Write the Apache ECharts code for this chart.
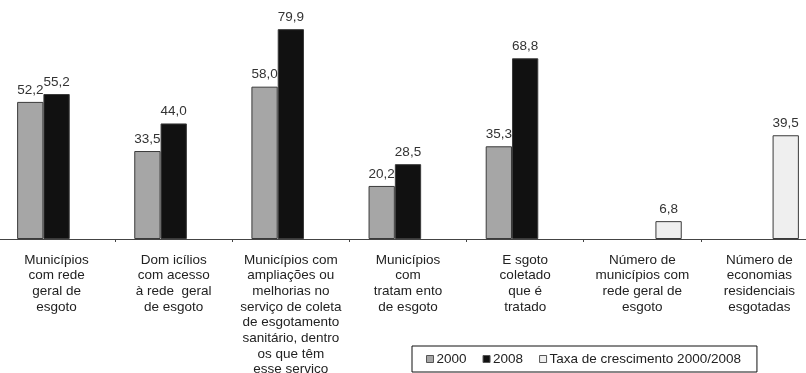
<!DOCTYPE html>
<html>
<head>
<meta charset="utf-8">
<script src="https://cdn.jsdelivr.net/npm/echarts@6/dist/echarts.min.js"></script>
<style>
  html, body { margin: 0; padding: 0; background: #fff; }
  #chart { width: 806px; height: 373px; }
</style>
</head>
<body>
<div id="chart"></div>
<script>
// Saneamento: indicadores de esgotamento sanitário, 2000 e 2008 (%)
const categories = [
  'Municípios\ncom rede\ngeral de\nesgoto',
  'Dom icílios\ncom acesso\nà rede  geral\nde esgoto',
  'Municípios com\nampliações ou\nmelhorias no\nserviço de coleta\nde esgotamento\nsanitário, dentro\nos que têm\nesse serviço',
  'Municípios\ncom\ntratam ento\nde esgoto',
  'E sgoto\ncoletado\nque é\ntratado',
  'Número de\nmunicípios com\nrede geral de\nesgoto',
  'Número de\neconomias\nresidenciais\nesgotadas'
];
const seriesNames = ['2000', '2008', 'Taxa de crescimento 2000/2008'];
const values2000 = [52.2, 33.5, 58.0, 20.2, 35.3, null, null];
const values2008 = [55.2, 44.0, 79.9, 28.5, 68.8, null, null];
const valuesTaxa = [null, null, null, null, null, 6.8, 39.5];

const fill = ['#a6a6a6', '#111111', '#efefef'];
const font = 'Liberation Sans, Arial, sans-serif';

const fmt = p => p.value == null ? '' : p.value.toFixed(1).replace('.', ',');

function barSeries(name, data, color) {
  return {
    name: name,
    type: 'bar',
    data: data,
    barWidth: 26.3,
    barGap: '0%',
    itemStyle: { color: color, borderColor: '#3a3a3a', borderWidth: 1 },
    label: {
      show: true,
      position: 'top',
      distance: 5,
      formatter: fmt,
      color: '#333',
      fontFamily: font,
      fontSize: 13.5
    },
    emphasis: { disabled: true }
  };
}

const chart = echarts.init(document.getElementById('chart'), null, { renderer: 'canvas' });
chart.setOption({
  animation: false,
  backgroundColor: '#fff',
  grid: {
    left: -2, top: 0, width: 820, height: 239,
    containLabel: false,
    outerBoundsMode: 'none'
  },
  legend: {
    data: seriesNames,
    left: 412,
    top: 346,
    padding: [6, 16, 6, 14],
    borderColor: '#111',
    borderWidth: 1,
    itemWidth: 7,
    itemHeight: 7,
    itemGap: 16,
    icon: 'rect',
    itemStyle: { borderColor: '#555', borderWidth: 1 },
    textStyle: { fontFamily: font, fontSize: 13.5, color: '#222', padding: [0, 0, 0, -2] }
  },
  xAxis: {
    type: 'category',
    data: categories,
    axisLine: { lineStyle: { color: '#444', width: 1.2 } },
    axisTick: { show: true, length: 3, lineStyle: { color: '#444' } },
    axisLabel: {
      interval: 0,
      margin: 13,
      fontFamily: font,
      fontSize: 13.5,
      lineHeight: 15.7,
      color: '#222',
      align: 'center'
    }
  },
  yAxis: {
    type: 'value',
    min: 0,
    max: 91,
    show: false,
    splitLine: { show: false }
  },
  series: [
    barSeries(seriesNames[0], values2000, fill[0]),
    barSeries(seriesNames[1], values2008, fill[1]),
    barSeries(seriesNames[2], valuesTaxa, fill[2])
  ]
});
</script>
</body>
</html>
